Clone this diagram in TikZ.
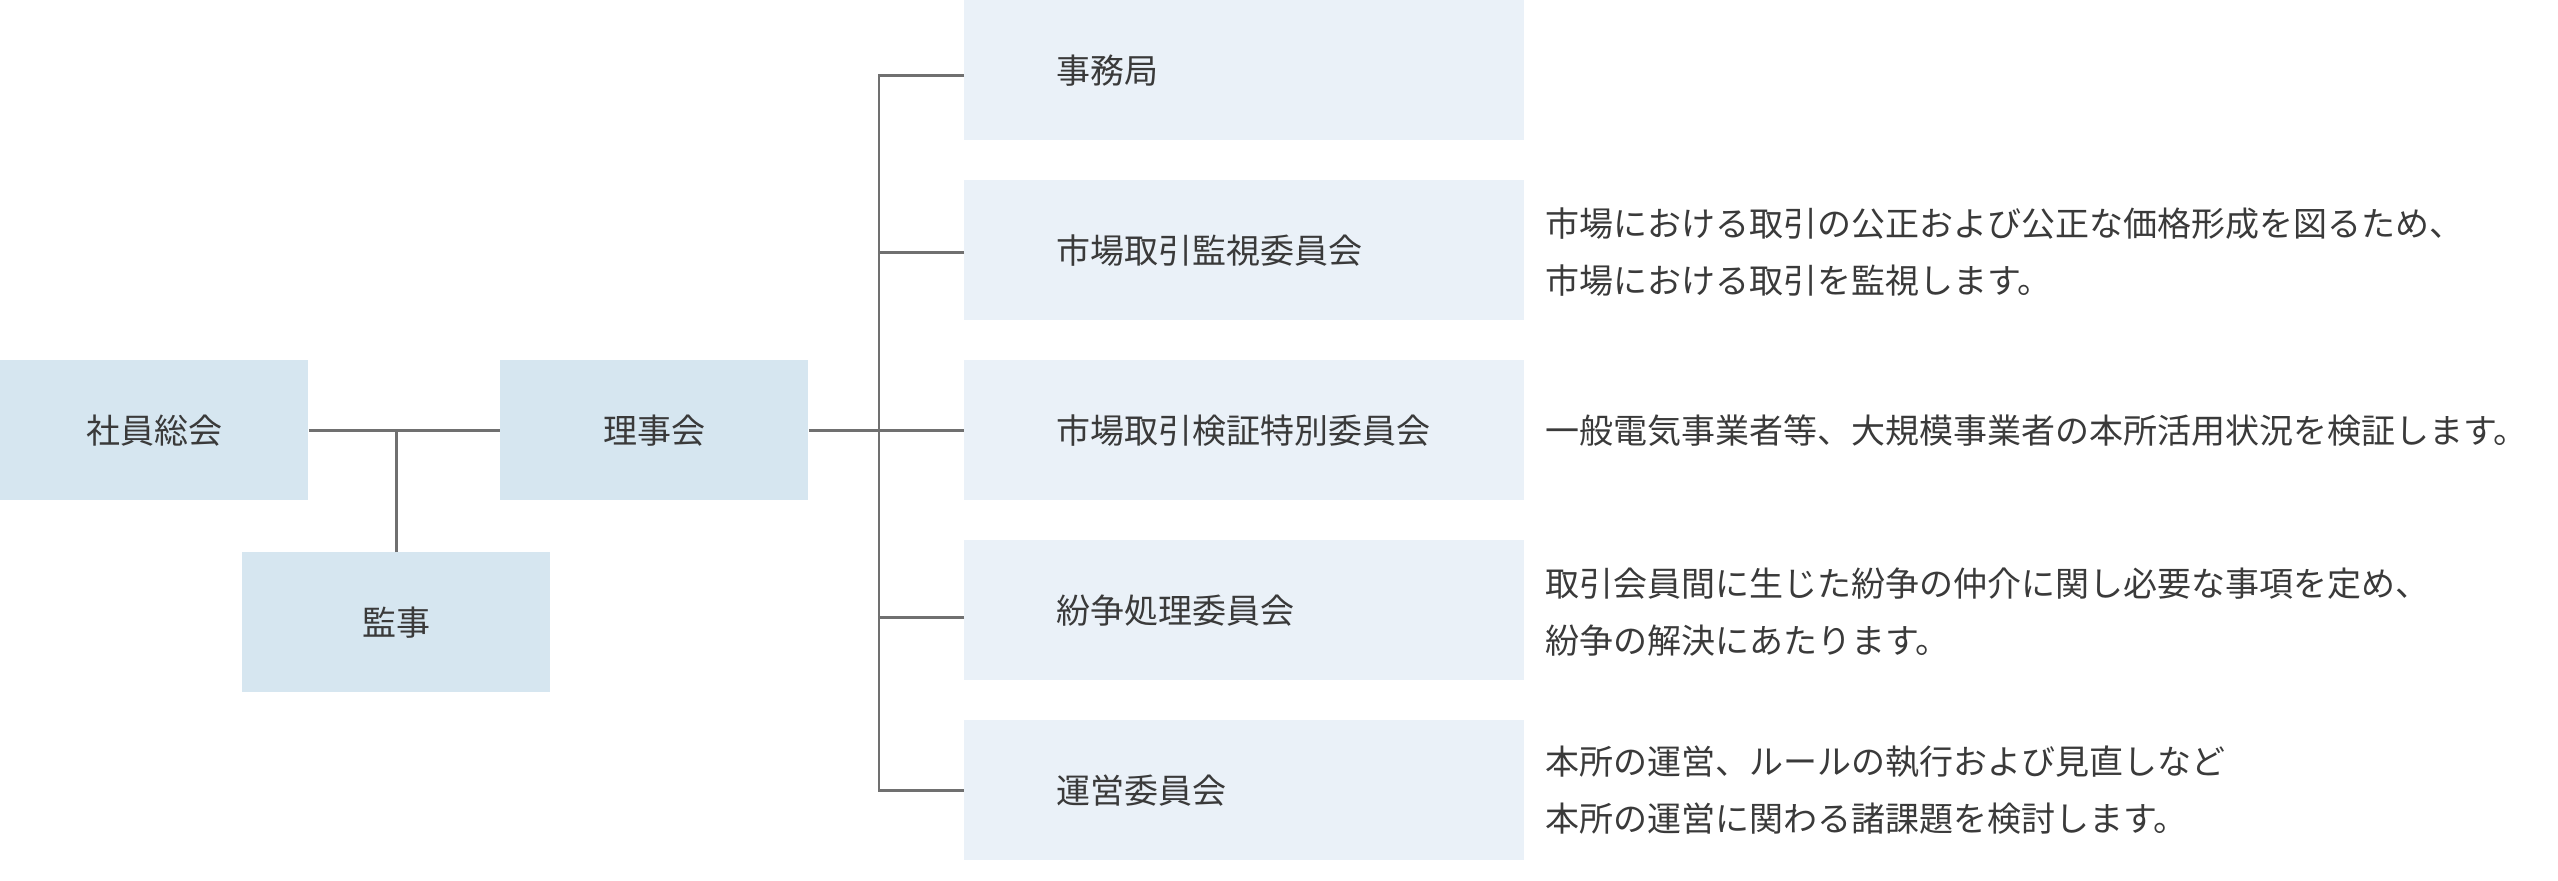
\documentclass[tikz,border=0pt]{standalone}
\usepackage{fontspec}
\newfontfamily\jpfont{Noto Sans CJK JP}
\definecolor{boxdark}{HTML}{D6E6F0}
\definecolor{boxlight}{HTML}{EAF1F8}
\definecolor{linegray}{HTML}{707070}
\definecolor{txtgray}{HTML}{3A3A3A}
\begin{document}
\begin{tikzpicture}[x=0.5pt,y=-0.5pt,
  every node/.style={font=\jpfont\fontsize{17pt}{28.5pt}\selectfont, text=txtgray},
  topbox/.style={fill=boxdark, draw=none, rectangle, inner sep=0pt, minimum width=154pt, minimum height=70pt, anchor=north west},
  subbox/.style={fill=boxlight, draw=none, rectangle, inner sep=0pt, minimum width=280pt, minimum height=70pt, anchor=north west},
  boxlabel/.style={anchor=west, inner sep=0pt},
  desc/.style={anchor=west, align=left, inner sep=0pt},
  conn/.style={draw=linegray, line width=1.1pt}
]
\useasboundingbox (0,0) rectangle (2558,880);
% top-level boxes
\node[topbox] (sa) at (0,360) {};
\node[anchor=center] (salab) at (sa.center) {社員総会};
\node[topbox] (rj) at (500,360) {};
\node[anchor=center] (rjlab) at (rj.center) {理事会};
\node[topbox] (kj) at (242,552) {};
\node[anchor=center] (kjlab) at (kj.center) {監事};
% committee boxes
\node[subbox] (b1) at (964,0) {};
\node[subbox] (b2) at (964,180) {};
\node[subbox] (b3) at (964,360) {};
\node[subbox] (b4) at (964,540) {};
\node[subbox] (b5) at (964,720) {};
\node[boxlabel] (l1) at ([xshift=46pt]b1.west) {事務局};
\node[boxlabel] (l2) at ([xshift=46pt]b2.west) {市場取引監視委員会};
\node[boxlabel] (l3) at ([xshift=46pt]b3.west) {市場取引検証特別委員会};
\node[boxlabel] (l4) at ([xshift=46pt]b4.west) {紛争処理委員会};
\node[boxlabel] (l5) at ([xshift=46pt]b5.west) {運営委員会};
% descriptions
\node[desc] (d2) at ([xshift=10pt,yshift=-1pt]b2.east) {市場における取引の公正および公正な価格形成を図るため、\\市場における取引を監視します。};
\node[desc] (d3) at ([xshift=10pt]b3.east) {一般電気事業者等、大規模事業者の本所活用状況を検証します。};
\node[desc] (d4) at ([xshift=10pt,yshift=-1pt]b4.east) {取引会員間に生じた紛争の仲介に関し必要な事項を定め、\\紛争の解決にあたります。};
\node[desc] (d5) at ([xshift=10pt]b5.east) {本所の運営、ルールの執行および見直しなど\\本所の運営に関わる諸課題を検討します。};
% connectors
\coordinate (busx) at (879,0);
\draw[conn] (sa.east) -- (rj.west);
\draw[conn] (kj.north) -- (kj.north |- sa.east);
\draw[conn] (rj.east) -- (b3.west);
\draw[conn] ([yshift=-2.5pt]b1.west) -- ([yshift=-2.5pt]b1.west -| busx) -- (b5.west -| busx) -- (b5.west);
\draw[conn] ([yshift=-1pt]b2.west) -- ([yshift=-1pt]b2.west -| busx);
\draw[conn] ([yshift=-3.5pt]b4.west) -- ([yshift=-3.5pt]b4.west -| busx);
\end{tikzpicture}
\end{document}
